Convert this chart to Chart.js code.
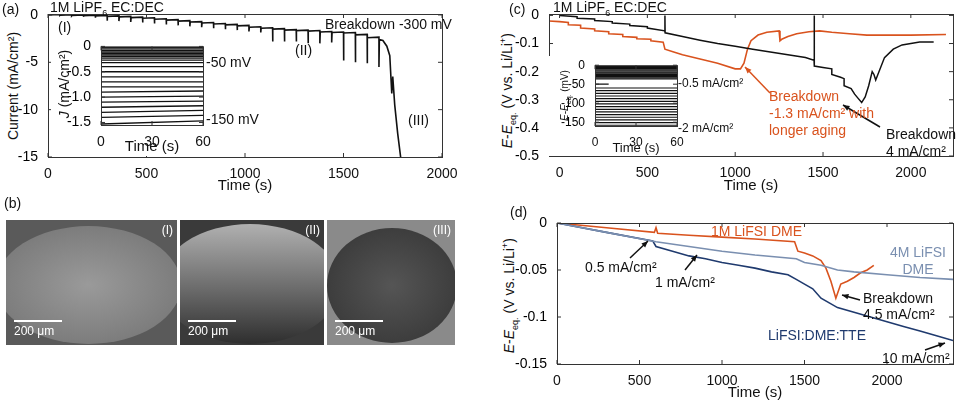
<!DOCTYPE html>
<html><head><meta charset="utf-8">
<script src="https://cdn.jsdelivr.net/npm/chart.js@4.4.1/dist/chart.umd.min.js"></script>
<style>
body{margin:0;width:960px;height:402px;background:#fff;position:relative;overflow:hidden;font-family:"Liberation Sans",Arial,sans-serif;color:#111}
canvas.c{position:absolute}
.t{position:absolute;font-size:14px;white-space:nowrap;line-height:15px}
.s{font-size:12px}
.rot{position:absolute;transform:rotate(-90deg);transform-origin:center;white-space:nowrap;font-size:14px;line-height:16px}
.img{position:absolute;overflow:hidden}
.img span{position:absolute;color:#fff;font-size:12px}
.bar{position:absolute;height:2px;background:#fff}
</style></head><body>
<div class="rot" style="left:-47px;top:78px;width:120px;text-align:center">Current (mA/cm²)</div>
<div class="rot" style="left:433px;top:78px;width:150px;text-align:center"><i>E</i>-<i>E</i><sub style="font-size:9px">eq.</sub> (V vs. Li/Li<sup style="font-size:9px">+</sup>)</div>
<div class="rot" style="left:435px;top:283px;width:150px;text-align:center"><i>E</i>-<i>E</i><sub style="font-size:9px">eq.</sub> (V vs. Li/Li<sup style="font-size:9px">+</sup>)</div>
<canvas class="c" id="ca" style="left:0;top:0"></canvas>
<canvas class="c" id="cai" style="left:51px;top:36px;background:#fff"></canvas>
<canvas class="c" id="cc" style="left:480px;top:0"></canvas>
<canvas class="c" id="cci" style="left:545px;top:56px;background:#fff"></canvas>
<canvas class="c" id="cd" style="left:480px;top:205px"></canvas>
<canvas class="c" id="arr" width="960" height="402" style="left:0;top:0;pointer-events:none"></canvas>
<div class="rot" style="left:24px;top:76px;width:80px;text-align:center"><i>J</i> (mA/cm²)</div>
<div class="rot" style="left:526px;top:88px;width:80px;text-align:center;font-size:10px;line-height:11px"><i>E</i>-<i>E</i><sub style="font-size:7px">eq.</sub> (mV)</div>

<div class="t" style="left:2px;top:2px">(a)</div>
<div class="t" style="left:50px;top:0px">1M LiPF<sub style="font-size:9px">6</sub> EC:DEC</div>
<div class="t" style="left:58px;top:20px">(I)</div>
<div class="t" style="left:295px;top:43px">(II)</div>
<div class="t" style="left:408px;top:113px">(III)</div>
<div class="t" style="left:325px;top:17px">Breakdown -300 mV</div>
<div class="t" style="left:206px;top:55px">-50 mV</div>
<div class="t" style="left:206px;top:112px">-150 mV</div>

<div class="t" style="left:4px;top:196px">(b)</div>
<div class="img" style="left:6px;top:220px;width:171px;height:125px;background:#5a5a5a"><div style="position:absolute;left:-10px;top:6px;width:185px;height:118px;border-radius:50%;background:radial-gradient(ellipse,#9a9a9a,#707070)"></div><span style="right:4px;top:3px">(I)</span><div class="bar" style="left:8px;top:100px;width:48px"></div><span style="left:8px;top:104px">200 μm</span></div>
<div class="img" style="left:180px;top:220px;width:144px;height:125px;background:#3a3a3a"><div style="position:absolute;left:-20px;top:4px;width:180px;height:120px;border-radius:50%;background:linear-gradient(#b0b0b0,#6a6a6a 55%,#2e2e2e)"></div><span style="right:4px;top:3px">(II)</span><div class="bar" style="left:8px;top:100px;width:48px"></div><span style="left:8px;top:104px">200 μm</span></div>
<div class="img" style="left:327px;top:220px;width:128px;height:125px;background:#8a8a8a"><div style="position:absolute;left:0px;top:8px;width:130px;height:115px;border-radius:50%;background:radial-gradient(ellipse,#555,#333)"></div><span style="right:4px;top:3px">(III)</span><div class="bar" style="left:8px;top:100px;width:48px"></div><span style="left:8px;top:104px">200 μm</span></div>

<div class="t" style="left:509px;top:2px">(c)</div>
<div class="t" style="left:553px;top:0px">1M LiPF<sub style="font-size:9px">6</sub> EC:DEC</div>
<div class="t s" style="left:678px;top:76px">-0.5 mA/cm²</div>
<div class="t s" style="left:678px;top:121px">-2 mA/cm²</div>
<div class="t" style="left:769px;top:88px;color:#d9531e;line-height:17px">Breakdown<br>-1.3 mA/cm² with<br>longer aging</div>
<div class="t" style="left:886px;top:126px;line-height:17px">Breakdown<br>4 mA/cm²</div>

<div class="t" style="left:510px;top:205px">(d)</div>
<div class="t" style="left:711px;top:224px;color:#d9531e">1M LiFSI DME</div>
<div class="t" style="left:890px;top:244px;color:#7a8fb0;text-align:center;line-height:17px">4M LiFSI<br>DME</div>
<div class="t" style="left:585px;top:260px">0.5 mA/cm²</div>
<div class="t" style="left:655px;top:275px">1 mA/cm²</div>
<div class="t" style="left:863px;top:290px;line-height:16px">Breakdown<br>4.5 mA/cm²</div>
<div class="t" style="left:768px;top:328px;color:#1f3a6e">LiFSI:DME:TTE</div>
<div class="t" style="left:882px;top:351px">10 mA/cm²</div>

<script>
// ---------- data ----------
const aStepTimes=[0,60,120,180,240,300,360,420,480,540,600,660,720,780,840,900,960,1020,1080,1140,1200,1260,1320,1380,1440,1500,1560,1620,1680];
const aBase=[0,-0.02,-0.05,-0.08,-0.1,-0.15,-0.2,-0.28,-0.35,-0.45,-0.55,-0.65,-0.75,-0.85,-0.95,-1.05,-1.15,-1.3,-1.4,-1.5,-1.6,-1.65,-1.7,-1.8,-1.85,-1.9,-2.1,-2.4,-2.6];
const aSpike=[0,-0.05,-0.1,-0.2,-0.3,-0.6,-0.65,-0.75,-0.8,-0.9,-1.0,-1.1,-1.2,-1.3,-1.4,-1.5,-1.6,-1.75,-1.85,-2.8,-2.8,-2.8,-3.0,-3.0,-2.9,-4.8,-5.0,-5.1,-5.5];
const aBreakT=[1700,1720,1735,1745,1750,1760,1775,1790];
const aBreakI=[-2.7,-3.3,-4.3,-8.3,-6.5,-9.5,-12.5,-15];
const aXTicks=[0,500,1000,1500,2000], aYTicks=[0,-5,-10,-15];
const aiLevels=[-0.02,-0.05,-0.08,-0.11,-0.14,-0.17,-0.2,-0.23,-0.27,-0.32,-0.4,-0.5,-0.6,-0.7,-0.8,-0.9,-1.0,-1.1,-1.2,-1.3,-1.4,-1.53];
const aiEnd=[-0.02,-0.05,-0.08,-0.11,-0.14,-0.17,-0.2,-0.23,-0.27,-0.32,-0.4,-0.5,-0.6,-0.7,-0.8,-0.88,-0.98,-1.08,-1.17,-1.26,-1.36,-1.47];
const aiXTicks=[0,30,60], aiYTicks=[0,-0.5,-1.0,-1.5];

const cBlackT=[0,100,100,200,200,300,300,400,400,500,500,599,600,600,601,700,800,900,1000,1100,1200,1300,1400,1449,1450,1450,1451,1500,1550,1550,1600,1620,1620,1660,1680,1700,1720,1740,1760,1780,1790,1800,1850,1900,1950,2000,2050,2130];
const cBlackV=[0,-0.005,-0.01,-0.013,-0.018,-0.022,-0.027,-0.031,-0.036,-0.04,-0.045,-0.055,-0.06,0.0,-0.062,-0.075,-0.088,-0.1,-0.11,-0.12,-0.13,-0.14,-0.15,-0.16,-0.165,0.0,-0.18,-0.185,-0.19,-0.21,-0.22,-0.225,-0.25,-0.26,-0.28,-0.295,-0.31,-0.29,-0.25,-0.2,-0.21,-0.23,-0.15,-0.12,-0.105,-0.1,-0.095,-0.095];
const cOrT=[-60,0,50,50,120,120,200,200,280,280,360,360,440,440,520,520,590,600,650,700,800,900,1000,1030,1050,1070,1090,1130,1180,1250,1255,1265,1300,1350,1420,1480,1550,1650,1750,1850,2000,2200];
const cOrV=[-0.02,-0.022,-0.025,-0.033,-0.035,-0.045,-0.048,-0.055,-0.058,-0.065,-0.068,-0.075,-0.078,-0.083,-0.085,-0.09,-0.095,-0.12,-0.13,-0.14,-0.155,-0.17,-0.19,-0.19,-0.17,-0.12,-0.09,-0.07,-0.06,-0.055,-0.09,-0.085,-0.075,-0.065,-0.058,-0.055,-0.06,-0.065,-0.07,-0.07,-0.07,-0.068];
const cXTicks=[0,500,1000,1500,2000], cYTicks=[0,-0.1,-0.2,-0.3,-0.4,-0.5];
const ciLevels=[-3,-6,-9,-12,-15,-18,-21,-24,-27,-30,-33,-36,-60,-67,-74,-81,-88,-95,-102,-109,-116,-123,-130,-137,-144,-151,-158];
const ciXTicks=[0,30,60], ciYTicks=[0,-50,-100,-150];

const d4MT=[0,300,600,800,1000,1200,1450,1500,1600,1700,1800,2000,2200,2400];
const d4MV=[0,-0.01,-0.02,-0.025,-0.03,-0.034,-0.038,-0.042,-0.045,-0.05,-0.052,-0.055,-0.058,-0.06];
const dTTET=[0,300,580,600,700,800,900,1000,1100,1200,1300,1400,1450,1500,1550,1600,1650,1700,1800,1900,2000,2100,2200,2300,2400];
const dTTEV=[0,-0.01,-0.019,-0.025,-0.03,-0.035,-0.038,-0.042,-0.045,-0.048,-0.052,-0.055,-0.06,-0.065,-0.07,-0.08,-0.085,-0.09,-0.095,-0.1,-0.105,-0.11,-0.115,-0.12,-0.125];
const d1MT=[0,300,590,600,610,800,1000,1200,1440,1460,1500,1550,1600,1630,1660,1690,1700,1720,1760,1800,1840,1880,1920];
const d1MV=[0,-0.005,-0.01,-0.005,-0.011,-0.013,-0.015,-0.017,-0.02,-0.03,-0.032,-0.035,-0.04,-0.048,-0.062,-0.08,-0.075,-0.065,-0.062,-0.058,-0.053,-0.05,-0.045];
const dXTicks=[0,500,1000,1500,2000], dYTicks=[0,-0.05,-0.1,-0.15];

// ---------- helpers ----------
const zip=(xs,ys)=>xs.map((x,i)=>({x,y:ys[i]}));
const aMain=[];
aStepTimes.forEach((t,i)=>{aMain.push({x:t,y:i?aBase[i-1]+0.05:0});aMain.push({x:t,y:aSpike[i]});aMain.push({x:t+2,y:aBase[i]});});
aBreakT.forEach((t,i)=>aMain.push({x:t,y:aBreakI[i]}));

const frame={id:'frame',afterDraw(ch){const a=ch.chartArea,c=ch.ctx;c.save();c.strokeStyle='#333';c.lineWidth=1;c.strokeRect(a.left+.5,a.top+.5,a.right-a.left,a.bottom-a.top);
 const xs=ch.scales.x,ys=ch.scales.y;c.beginPath();xs.ticks.forEach(t=>{const p=xs.getPixelForValue(t.value);c.moveTo(p,a.bottom);c.lineTo(p,a.bottom-4);c.moveTo(p,a.top);c.lineTo(p,a.top+4);});
 ys.ticks.forEach(t=>{const p=ys.getPixelForValue(t.value);c.moveTo(a.left,p);c.lineTo(a.left+4,p);c.moveTo(a.right,p);c.lineTo(a.right-4,p);});c.stroke();c.restore();}};
const plain=v=>String(v), one=v=>v===0?'0':v.toFixed(1);
function mk(id,w,h,datasets,xr,yr,yW,xH,pt,pr,fs,xTitle,yFmt){
 const el=document.getElementById(id);el.width=w;el.height=h;
 const fnt={family:'"Liberation Sans", Arial, sans-serif',size:fs};
 return new Chart(el,{type:'line',data:{datasets},plugins:[frame],options:{responsive:false,animation:false,
  layout:{padding:{top:pt,right:pr,left:0,bottom:0}},
  elements:{point:{radius:0},line:{borderWidth:1.5,tension:0}},
  plugins:{legend:{display:false},tooltip:{enabled:false}},
  scales:{
   x:{type:'linear',min:xr[0],max:xr[1],grid:{display:false},border:{display:false},
      ticks:{color:'#111',font:fnt,padding:1,maxRotation:0,callback:plain},afterBuildTicks:s=>{s.ticks=xr[2].map(v=>({value:v}))},
      title:{display:true,text:xTitle,color:'#111',font:{...fnt,size:fs+1},padding:0},afterFit:s=>{s.height=xH}},
   y:{type:'linear',min:yr[0],max:yr[1],grid:{display:false},border:{display:false},
      ticks:{color:'#000',font:fnt,padding:2,callback:yFmt||plain},afterBuildTicks:s=>{s.ticks=yr[2].map(v=>({value:v}))},afterFit:s=>{s.width=yW}}}}});
}
const ds=(data,color,bw)=>({data,borderColor:color,borderWidth:bw||1.5,fill:false});

mk('ca',460,195,[ds(aMain,'#111',1.6)],[0,2000,aXTicks],[-15,0.1,aYTicks],48,38,14,18,14,'Time (s)');
mk('cai',163,120,aiLevels.map((l,i)=>ds([{x:0,y:l},{x:60,y:aiEnd[i]}],'#111',1.3)),[0,60,aiXTicks],[-1.55,0,aiYTicks],50,31,7,11,14,'Time (s)',one);
mk('cc',480,195,[ds(zip(cBlackT,cBlackV),'#111',1.5),ds(zip(cOrT,cOrV),'#d9531e',1.6)],[-60,2240,cXTicks],[-0.5,0.005,cYTicks],69,39,14,7,14,'Time (s)',one);
mk('cci',140,100,[...ciLevels.map(l=>ds([{x:0,y:l},{x:60,y:l}],'#111',1.2)),ds([{x:0,y:-50},{x:10,y:-50}],'#111',1.2)],[0,60,ciXTicks],[-160,0,ciYTicks],50,30,7,8,12,'Time (s)');
mk('cd',480,197,[ds(zip(d4MT,d4MV),'#7a8fb0',1.6),ds(zip(dTTET,dTTEV),'#1f3a6e',1.6),ds(zip(d1MT,d1MV),'#d9531e',1.6)],[0,2400,dXTicks],[-0.15,0,dYTicks],77,38,18,7,14,'Time (s)');

// annotation arrows (page px)
const arrows=[[1733,20,1700,26,'#111'],[770,93,745,67,'#d9531e'],[880,127,843,105,'#111'],[630,258,648,241,'#111'],[685,270,697,255,'#111'],[860,300,842,295,'#111'],[925,350,945,343,'#111']];
const ac=document.getElementById('arr').getContext('2d');
arrows.forEach(([x1,y1,x2,y2,c])=>{ac.strokeStyle=c;ac.fillStyle=c;ac.lineWidth=1.5;ac.beginPath();ac.moveTo(x1,y1);ac.lineTo(x2,y2);ac.stroke();
 const a=Math.atan2(y2-y1,x2-x1);ac.beginPath();ac.moveTo(x2,y2);ac.lineTo(x2-7*Math.cos(a-0.4),y2-7*Math.sin(a-0.4));ac.lineTo(x2-7*Math.cos(a+0.4),y2-7*Math.sin(a+0.4));ac.closePath();ac.fill();});
</script></body></html>
